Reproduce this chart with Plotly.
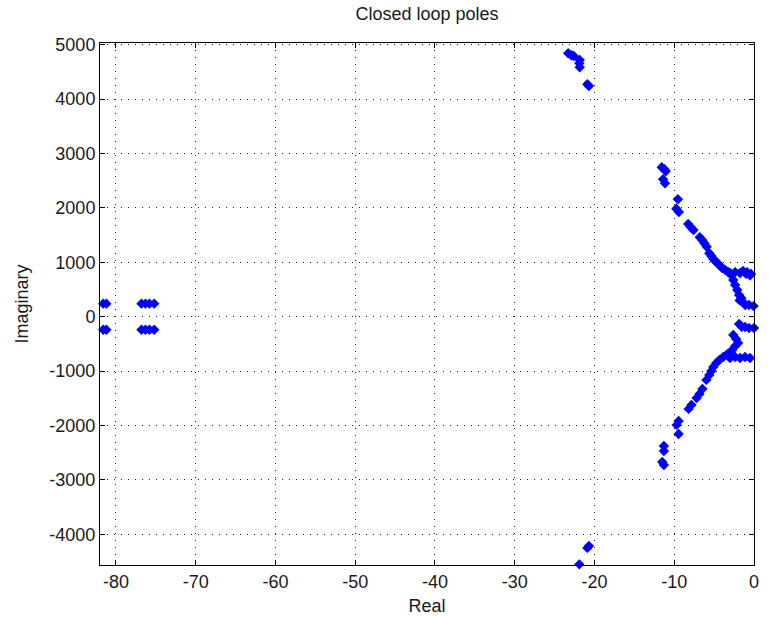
import plotly.graph_objects as go

# Closed-loop poles: real and imaginary parts
real_upper = [-81.6, -81.2, -76.8, -76.3, -75.8, -75.2,
              -23.3, -22.9, -22.6, -21.85, -21.9, -21.85, -20.9, -20.7,
              -11.57, -11.23, -11.07, -11.4, -11.16, -9.54, -9.74, -9.42,
              -8.25, -7.92, -7.59, -6.8, -6.5, -6.22, -5.93, -5.6, -5.35,
              -5.1, -4.85, -4.6, -4.35, -4.0, -3.6, -3.23, -2.86,
              -3.0, -2.36, -1.74, -1.37, -0.87, -0.37, 0.1, -0.5, -1.0,
              -2.6, -2.36, -2.1, -1.87, -1.6, -1.37, -1.1, -0.62, -0.05, -1.8]
imag_upper = [240, 240, 240, 240, 240, 240,
              4842, 4807, 4792, 4719, 4658, 4584, 4272, 4241,
              2746, 2710, 2673, 2526, 2452, 2158, 1985, 1925,
              1704, 1643, 1594, 1460, 1410, 1349, 1287, 1166, 1115,
              1060, 1023, 987, 950, 895, 858, 820, 767,
              803, 820, 803, 840, 820, 785, 750, 760, 790,
              674, 582, 490, 399, 344, 270, 215, 215, 195, 300]

real_lower = [-81.6, -81.2, -76.8, -76.3, -75.8, -75.2,
              -20.7, -20.9, -21.9,
              -1.53, -1.12, -0.62, 0.0, -1.87,
              -2.6, -2.24, -1.99, -2.36, -2.74,
              -2.36, -1.74, -1.12, -0.5, 0.05, -3.0,
              -3.36, -3.86, -4.35, -4.73, -5.1, -5.35, -5.6, -5.97, -6.47,
              -6.84, -7.2, -7.84, -8.2, -9.45, -9.7, -9.45,
              -11.3, -11.3, -11.5, -11.3]
imag_lower = [-240, -240, -240, -240, -240, -240,
              -4215, -4250, -4552,
              -184, -190, -208, -208, -134,
              -336, -410, -484, -540, -613,
              -740, -760, -740, -760, -740, -760,
              -687, -742, -795, -850, -923, -997, -1070, -1162, -1327,
              -1419, -1493, -1621, -1695, -1915, -1989, -2156,
              -2377, -2469, -2671, -2726]

x_ticks = [-80, -70, -60, -50, -40, -30, -20, -10, 0]
x_tick_labels = ["-80", "-70", "-60", "-50", "-40", "-30", "-20", "-10", "0"]
y_ticks = [-4000, -3000, -2000, -1000, 0, 1000, 2000, 3000, 4000, 5000]
y_tick_labels = ["-4000", "-3000", "-2000", "-1000", "0", "1000", "2000", "3000", "4000", "5000"]

FONT = "Liberation Sans"
TEXT = "#1a1a1a"

fig = go.Figure()
fig.add_trace(go.Scatter(
    x=real_upper + real_lower,
    y=imag_upper + imag_lower,
    mode="markers",
    marker=dict(symbol="diamond", size=8, color="#0000FF", line=dict(width=0)),
    cliponaxis=False,
    showlegend=False,
))

axis_common = dict(
    showline=True, linecolor="black", linewidth=1, mirror="ticks",
    ticks="inside", ticklen=5, tickcolor="black", tickwidth=1,
    showgrid=True, gridcolor="#222222", gridwidth=1, griddash="1px,6px",
    zeroline=False,
    tickfont=dict(family=FONT, size=18, color=TEXT),
)

fig.update_xaxes(range=[-82.0, 0.0], tickvals=x_ticks, ticktext=x_tick_labels,
                 title=dict(text="Real", font=dict(family=FONT, size=18, color=TEXT), standoff=8),
                 **axis_common)
fig.update_yaxes(range=[-4564, 5031], tickvals=y_ticks, ticktext=y_tick_labels,
                 title=dict(text="Imaginary", font=dict(family=FONT, size=18, color=TEXT), standoff=16),
                 **axis_common)

fig.update_layout(
    width=769, height=624,
    margin=dict(l=100, r=10, t=43, b=59),
    paper_bgcolor="white", plot_bgcolor="white",
    title=dict(text="Closed loop poles", x=0.5, xref="paper",
               y=1 - 14 / 624, yref="container", yanchor="middle",
               font=dict(family=FONT, size=18, color=TEXT)),
)

fig.write_html("out.html")
